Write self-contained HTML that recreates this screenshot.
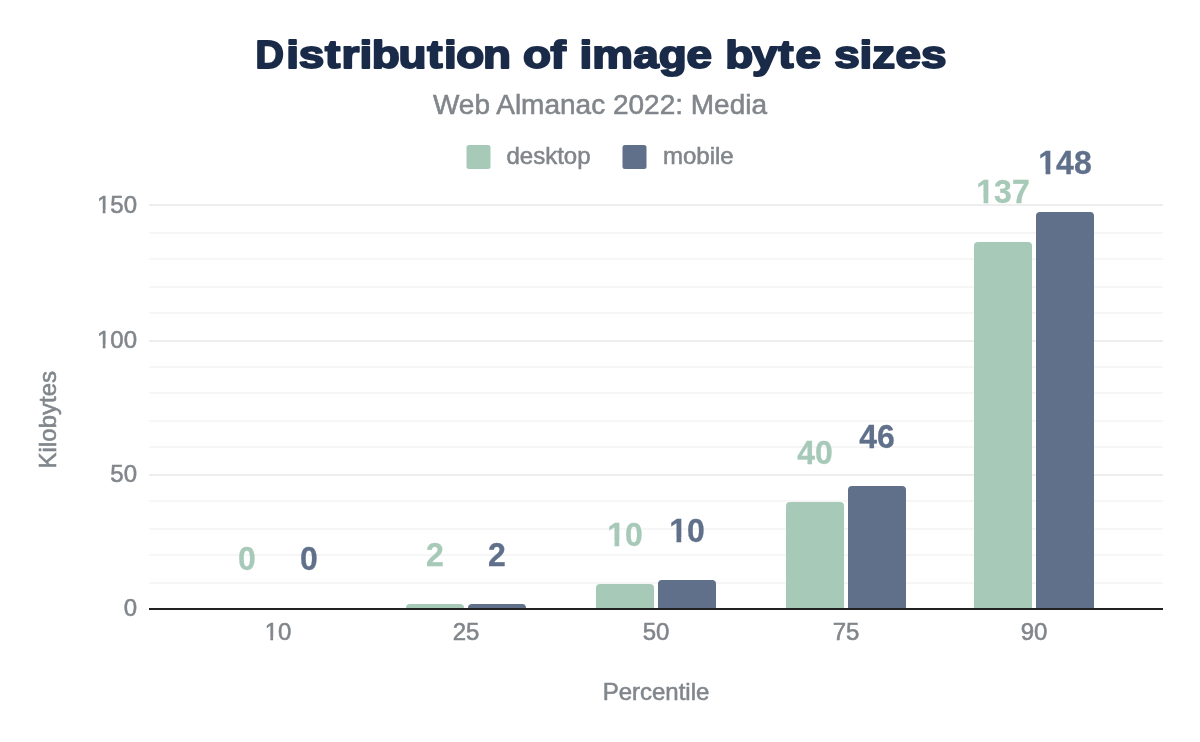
<!DOCTYPE html>
<html lang="en">
<head>
<meta charset="utf-8">
<title>Distribution of image byte sizes</title>
<style>
html,body{margin:0;padding:0;background:#fff;}
body{width:1200px;height:742px;overflow:hidden;font-family:"Liberation Sans",Arial,sans-serif;}
svg{display:block;}
svg text{font-family:"Liberation Sans",Arial,sans-serif;}
.ax{font-size:24px;fill:#80868b;stroke:#80868b;stroke-width:0.55px;}
.lb{font-size:32px;font-weight:bold;stroke-width:0.3px;}
.d{fill:#a7c9b8;stroke:#a7c9b8;}
.m{fill:#60708b;stroke:#60708b;}
</style>
</head>
<body>
<svg width="1200" height="742" viewBox="0 0 1200 742">
<rect width="1200" height="742" fill="#ffffff"/>
<defs>
<clipPath id="c1"><path clip-rule="evenodd" d="M-200 -200H200V200H-200ZM-39.29 -3.37H-34.28V1.27H-39.29ZM-31.61 -3.37H-26.99V1.27H-31.61Z"/></clipPath>
<clipPath id="c2"><path clip-rule="evenodd" d="M-200 -200H200V200H-200ZM-39.29 -3.37H-34.28V1.27H-39.29ZM-31.61 -3.37H-26.99V1.27H-31.61Z"/></clipPath>
<clipPath id="c3"><path clip-rule="evenodd" d="M-200 -200H200V200H-200ZM-16.73 -4.72H-10.48V1.15H-16.73ZM-5.79 -4.72H-0.14V1.15H-5.79Z"/></clipPath>
<clipPath id="c4"><path clip-rule="evenodd" d="M-200 -200H200V200H-200ZM-25.63 -4.72H-19.38V1.15H-25.63ZM-14.69 -4.72H-9.04V1.15H-14.69Z"/></clipPath>
<clipPath id="c5"><path clip-rule="evenodd" d="M-200 -200H200V200H-200ZM-25.63 -4.72H-19.38V1.15H-25.63ZM-14.69 -4.72H-9.04V1.15H-14.69Z"/></clipPath>
<clipPath id="c6"><path clip-rule="evenodd" d="M-200 -200H200V200H-200ZM-12.59 -3.37H-7.59V1.27H-12.59ZM-4.92 -3.37H-0.30V1.27H-4.92Z"/></clipPath>
</defs>
<text id="title" transform="scale(1.194,1)" x="213.91 239.71 250.18 272.14 285.93 301.08 311.45 333.79 357.74 371.82 382.18 404.53 427.68 438.04 461.07 474.23 485.40 496.00 530.32 551.62 575.01 597.11 607.48 629.93 651.88 666.20 688.31 698.78 719.94 730.57 749.97 771.38" y="68.25" font-size="38.4" font-weight="bold" fill="#1a2b49" stroke="#1a2b49" stroke-width="1.9" stroke-linejoin="round"><tspan textLength="23.79" lengthAdjust="spacingAndGlyphs">D</tspan>istribution of image byte sizes</text>
<text id="sub" x="600" y="114" text-anchor="middle" font-size="28" fill="#80868b" stroke="#80868b" stroke-width="0.55">Web Almanac 2022: Media</text>
<rect x="466.5" y="145" width="24" height="24" rx="2.5" fill="#a7c9b8"/>
<text class="ax" x="506.5" y="163.5">desktop</text>
<rect x="622.5" y="145" width="24" height="24" rx="2.5" fill="#60708b"/>
<text class="ax" x="663" y="163.5">mobile</text>
<rect x="149" y="204" width="1014" height="2" fill="#eeeeee"/>
<rect x="149" y="232" width="1014" height="2" fill="#f6f6f6"/>
<rect x="149" y="258" width="1014" height="2" fill="#f6f6f6"/>
<rect x="149" y="286" width="1014" height="2" fill="#f6f6f6"/>
<rect x="149" y="312" width="1014" height="2" fill="#f6f6f6"/>
<rect x="149" y="340" width="1014" height="2" fill="#eeeeee"/>
<rect x="149" y="366" width="1014" height="2" fill="#f6f6f6"/>
<rect x="149" y="392" width="1014" height="2" fill="#f6f6f6"/>
<rect x="149" y="420" width="1014" height="2" fill="#f6f6f6"/>
<rect x="149" y="446" width="1014" height="2" fill="#f6f6f6"/>
<rect x="149" y="474" width="1014" height="2" fill="#eeeeee"/>
<rect x="149" y="500" width="1014" height="2" fill="#f6f6f6"/>
<rect x="149" y="528" width="1014" height="2" fill="#f6f6f6"/>
<rect x="149" y="554" width="1014" height="2" fill="#f6f6f6"/>
<rect x="149" y="582" width="1014" height="2" fill="#f6f6f6"/>
<text class="ax" x="137" y="616.4" text-anchor="end">0</text>
<text class="ax" x="137" y="482.3" text-anchor="end">50</text>
<text class="ax" transform="translate(137,347.8)" text-anchor="end" clip-path="url(#c1)">100</text>
<text class="ax" transform="translate(137,213.2)" text-anchor="end" clip-path="url(#c2)">150</text>
<path d="M406 609 V608 A4 4 0 0 1 410 604 H460 A4 4 0 0 1 464 608 V609 Z" fill="#a7c9b8"/>
<path d="M468 609 V608 A4 4 0 0 1 472 604 H522 A4 4 0 0 1 526 608 V609 Z" fill="#60708b"/>
<path d="M596 609 V588 A4 4 0 0 1 600 584 H650 A4 4 0 0 1 654 588 V609 Z" fill="#a7c9b8"/>
<path d="M658 609 V584 A4 4 0 0 1 662 580 H712 A4 4 0 0 1 716 584 V609 Z" fill="#60708b"/>
<path d="M786 609 V506 A4 4 0 0 1 790 502 H840 A4 4 0 0 1 844 506 V609 Z" fill="#a7c9b8"/>
<path d="M848 609 V490 A4 4 0 0 1 852 486 H902 A4 4 0 0 1 906 490 V609 Z" fill="#60708b"/>
<path d="M974 609 V246 A4 4 0 0 1 978 242 H1028 A4 4 0 0 1 1032 246 V609 Z" fill="#a7c9b8"/>
<path d="M1036 609 V216 A4 4 0 0 1 1040 212 H1090 A4 4 0 0 1 1094 216 V609 Z" fill="#60708b"/>
<rect x="149" y="608" width="1014" height="2" fill="#222222"/>
<text class="lb d" transform="translate(247,570) scale(1,1.025)" text-anchor="middle">0</text>
<text class="lb m" transform="translate(309,570) scale(1,1.025)" text-anchor="middle">0</text>
<text class="lb d" transform="translate(435,566) scale(1,1.025)" text-anchor="middle">2</text>
<text class="lb m" transform="translate(497,566) scale(1,1.025)" text-anchor="middle">2</text>
<text class="lb d" transform="translate(625,545.7) scale(1,1.025)" text-anchor="middle" clip-path="url(#c3)">10</text>
<text class="lb m" transform="translate(687,542.3) scale(1,1.025)" text-anchor="middle" clip-path="url(#c3)">10</text>
<text class="lb d" transform="translate(815,464) scale(1,1.025)" text-anchor="middle">40</text>
<text class="lb m" transform="translate(877,448.3) scale(1,1.025)" text-anchor="middle">46</text>
<text class="lb d" transform="translate(1003,203.3) scale(1,1.025)" text-anchor="middle" clip-path="url(#c4)">137</text>
<text class="lb m" transform="translate(1065,174) scale(1,1.025)" text-anchor="middle" clip-path="url(#c5)">148</text>
<text class="ax" transform="translate(278,640.4)" text-anchor="middle" clip-path="url(#c6)">10</text>
<text class="ax" x="466" y="640.4" text-anchor="middle">25</text>
<text class="ax" x="656" y="640.4" text-anchor="middle">50</text>
<text class="ax" x="846" y="640.4" text-anchor="middle">75</text>
<text class="ax" x="1034" y="640.4" text-anchor="middle">90</text>
<text class="ax" x="656" y="699.6" text-anchor="middle">Percentile</text>
<text class="ax" transform="translate(56.3,419.7) rotate(-90)" text-anchor="middle">Kilobytes</text>
</svg>
</body>
</html>
